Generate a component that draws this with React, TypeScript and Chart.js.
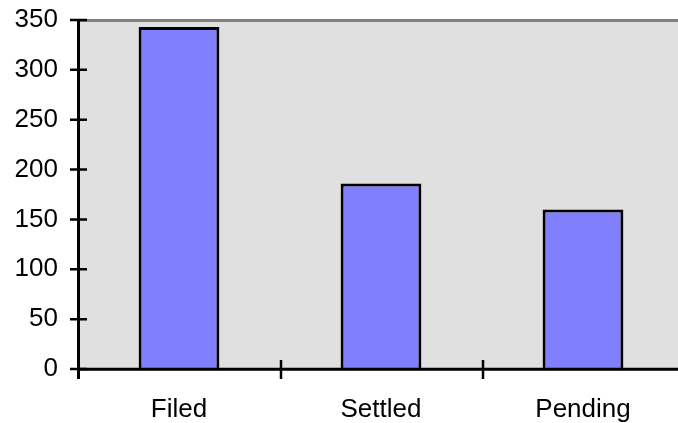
import React, { useEffect, useRef } from "react";
import { Chart, registerables } from "chart.js";

Chart.register(...registerables);

const categories: string[] = ["Filed", "Settled", "Pending"];
const counts: number[] = [343, 186, 160];
const yMin = 0;
const yMax = 350;
const yStep = 50;

const FONT = "'Liberation Sans', Arial, sans-serif";

const frame = {
  id: "excelFrame",
  beforeDatasetsDraw(chart: any) {
    const { ctx, chartArea } = chart;
    const { left, right, top, bottom } = chartArea;
    ctx.save();
    ctx.fillStyle = "#E0E0E0";
    ctx.fillRect(left, top, right - left, bottom - top);
    ctx.restore();
  },
  afterDatasetsDraw(chart: any) {
    const { ctx, chartArea, scales } = chart;
    const { left, right, top, bottom } = chartArea;
    const xs = scales.x;
    const ys = scales.y;
    ctx.save();
    // gray plot border (top/right)
    ctx.strokeStyle = "#808080";
    ctx.lineWidth = 3;
    ctx.beginPath();
    ctx.moveTo(left, top + 0.5);
    ctx.lineTo(right, top + 0.5);
    ctx.lineTo(right, bottom);
    ctx.stroke();
    // axes
    ctx.strokeStyle = "#000";
    ctx.lineWidth = 3;
    ctx.beginPath();
    ctx.moveTo(left + 0.5, top);
    ctx.lineTo(left + 0.5, bottom + 10);
    ctx.moveTo(left, bottom + 0.2);
    ctx.lineTo(right, bottom + 0.2);
    ctx.stroke();
    // y ticks
    ctx.lineWidth = 2.5;
    ctx.beginPath();
    for (const t of ys.ticks) {
      const y = ys.getPixelForValue(t.value);
      ctx.moveTo(left - 8, y);
      ctx.lineTo(left + 9, y);
    }
    // x ticks at category boundaries
    for (let i = 1; i < categories.length; i++) {
      const x = (xs.getPixelForValue(i - 1) + xs.getPixelForValue(i)) / 2;
      ctx.moveTo(x + 1, bottom - 9);
      ctx.lineTo(x + 1, bottom + 10);
    }
    ctx.stroke();
    ctx.restore();
  },
};

export default function App() {
  const ref = useRef<HTMLCanvasElement | null>(null);
  useEffect(() => {
    if (!ref.current) return;
    const chart = new Chart(ref.current, {
      type: "bar",
      data: {
        labels: categories,
        datasets: [
          {
            data: counts,
            backgroundColor: "#8080FF",
            borderColor: "#000000",
            borderWidth: 3,
            borderSkipped: "start",
            barPercentage: 0.4,
            categoryPercentage: 1,
          },
        ],
      },
      options: {
        responsive: false,
        animation: false,
        devicePixelRatio: 1,
        layout: { padding: { top: 20, right: 2, left: 0, bottom: 0 } },
        plugins: { legend: { display: false }, tooltip: { enabled: false } },
        scales: {
          x: {
            grid: { display: false, drawTicks: false },
            border: { display: false },
            ticks: { color: "#000", font: { family: FONT, size: 26 }, padding: 25 },
            afterFit: (s: any) => {
              s.height = 54;
              s.paddingLeft = 0;
              s.paddingRight = 0;
            },
          },
          y: {
            min: yMin,
            max: yMax,
            grid: { display: false, drawTicks: false },
            border: { display: false },
            ticks: {
              stepSize: yStep,
              color: "#000",
              font: { family: FONT, size: 26 },
              padding: 20,
            },
            afterFit: (s: any) => {
              s.width = 78;
              s.paddingTop = 0;
              s.paddingBottom = 0;
            },
          },
        },
      },
      plugins: [frame],
    });
    return () => chart.destroy();
  }, []);
  return (
    <div
      style={{
        position: "absolute",
        left: 0,
        top: 0,
        width: 678,
        height: 423,
        overflow: "hidden",
        background: "#fff",
      }}
    >
      <canvas ref={ref} width={686} height={423} style={{ display: "block" }} />
    </div>
  );
}
